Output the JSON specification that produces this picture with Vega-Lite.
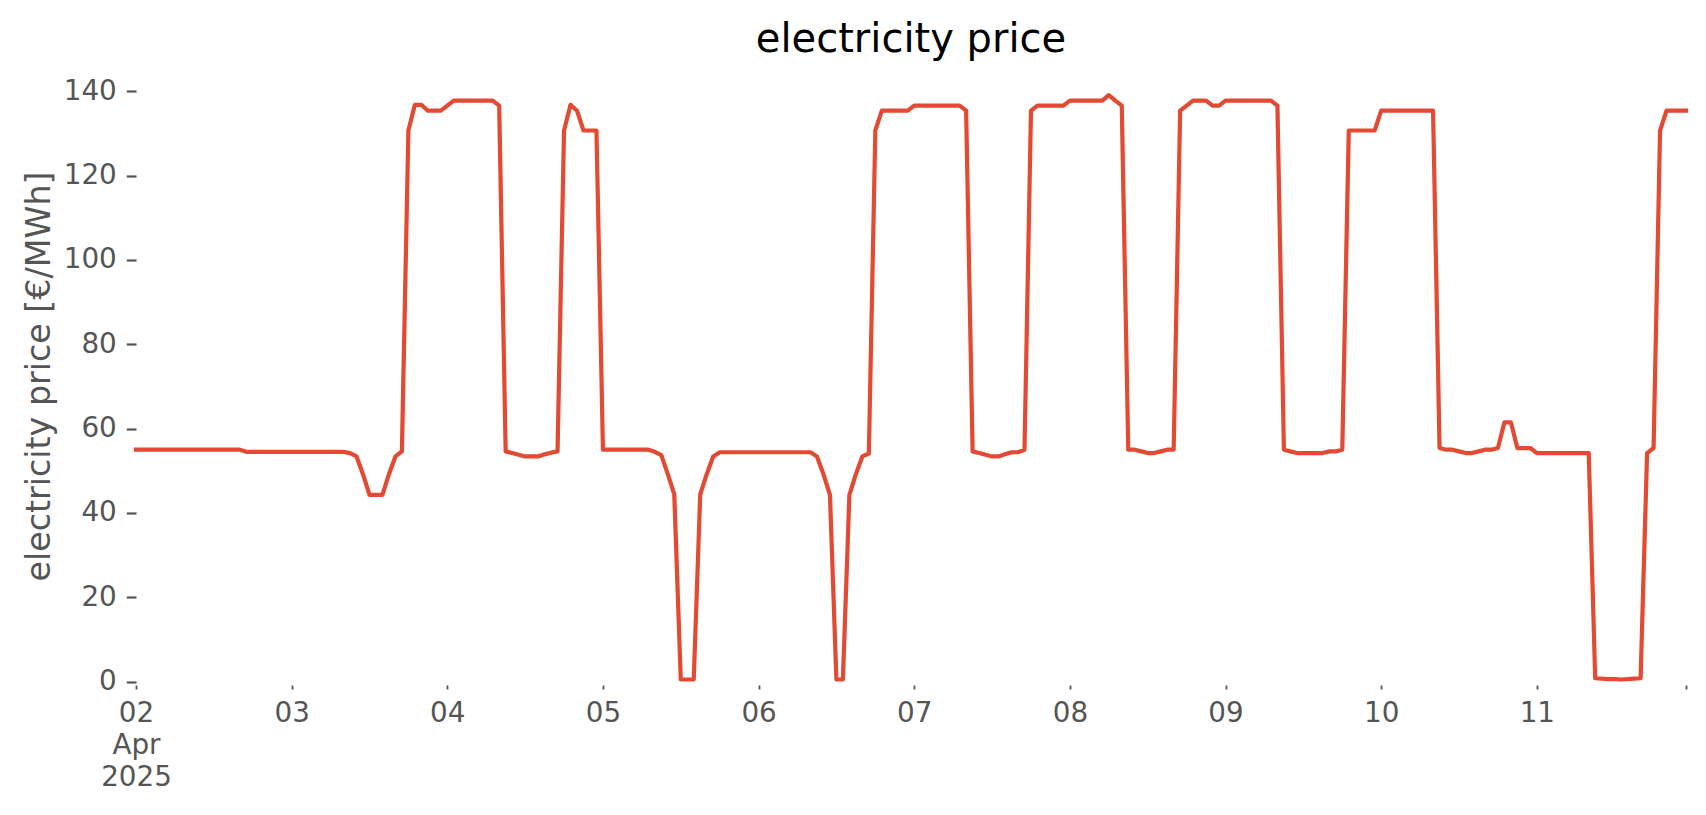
{
  "$schema": "https://vega.github.io/schema/vega-lite/v6.json",
  "width": 1550,
  "height": 619,
  "autosize": {"type": "none"},
  "padding": {"left": 136, "top": 66, "right": 20, "bottom": 130},
  "background": "white",
  "config": {"view": {"stroke": null}},
  "title": {"text": "electricity price", "font": "DejaVu Sans", "fontSize": 40, "fontWeight": "normal", "color": "#000000", "frame": "group", "anchor": "middle", "baseline": "alphabetic", "offset": 15.5, "dy": 41},
  "data": {"values": [
    {"t":"2025-04-02T00:00","p":55.0},{"t":"2025-04-02T01:00","p":55.0},{"t":"2025-04-02T02:00","p":55.0},{"t":"2025-04-02T03:00","p":55.0},{"t":"2025-04-02T04:00","p":55.0},{"t":"2025-04-02T05:00","p":55.0},{"t":"2025-04-02T06:00","p":55.0},{"t":"2025-04-02T07:00","p":55.0},{"t":"2025-04-02T08:00","p":55.0},{"t":"2025-04-02T09:00","p":55.0},{"t":"2025-04-02T10:00","p":55.0},{"t":"2025-04-02T11:00","p":55.0},{"t":"2025-04-02T12:00","p":55.0},{"t":"2025-04-02T13:00","p":55.0},{"t":"2025-04-02T14:00","p":55.0},{"t":"2025-04-02T15:00","p":55.0},{"t":"2025-04-02T16:00","p":55.0},{"t":"2025-04-02T17:00","p":54.5},{"t":"2025-04-02T18:00","p":54.5},{"t":"2025-04-02T19:00","p":54.5},{"t":"2025-04-02T20:00","p":54.5},{"t":"2025-04-02T21:00","p":54.5},{"t":"2025-04-02T22:00","p":54.5},{"t":"2025-04-02T23:00","p":54.5},
    {"t":"2025-04-03T00:00","p":54.5},{"t":"2025-04-03T01:00","p":54.5},{"t":"2025-04-03T02:00","p":54.5},{"t":"2025-04-03T03:00","p":54.5},{"t":"2025-04-03T04:00","p":54.5},{"t":"2025-04-03T05:00","p":54.5},{"t":"2025-04-03T06:00","p":54.5},{"t":"2025-04-03T07:00","p":54.5},{"t":"2025-04-03T08:00","p":54.5},{"t":"2025-04-03T09:00","p":54.2},{"t":"2025-04-03T10:00","p":53.4},{"t":"2025-04-03T11:00","p":49.2},{"t":"2025-04-03T12:00","p":44.3},{"t":"2025-04-03T13:00","p":44.3},{"t":"2025-04-03T14:00","p":44.3},{"t":"2025-04-03T15:00","p":49.2},{"t":"2025-04-03T16:00","p":53.4},{"t":"2025-04-03T17:00","p":54.6},{"t":"2025-04-03T18:00","p":130.7},{"t":"2025-04-03T19:00","p":136.8},{"t":"2025-04-03T20:00","p":136.8},{"t":"2025-04-03T21:00","p":135.4},{"t":"2025-04-03T22:00","p":135.4},{"t":"2025-04-03T23:00","p":135.4},
    {"t":"2025-04-04T00:00","p":136.6},{"t":"2025-04-04T01:00","p":137.8},{"t":"2025-04-04T02:00","p":137.8},{"t":"2025-04-04T03:00","p":137.8},{"t":"2025-04-04T04:00","p":137.8},{"t":"2025-04-04T05:00","p":137.8},{"t":"2025-04-04T06:00","p":137.8},{"t":"2025-04-04T07:00","p":137.8},{"t":"2025-04-04T08:00","p":136.6},{"t":"2025-04-04T09:00","p":54.6},{"t":"2025-04-04T10:00","p":54.2},{"t":"2025-04-04T11:00","p":53.8},{"t":"2025-04-04T12:00","p":53.4},{"t":"2025-04-04T13:00","p":53.4},{"t":"2025-04-04T14:00","p":53.4},{"t":"2025-04-04T15:00","p":53.9},{"t":"2025-04-04T16:00","p":54.3},{"t":"2025-04-04T17:00","p":54.6},{"t":"2025-04-04T18:00","p":130.7},{"t":"2025-04-04T19:00","p":136.8},{"t":"2025-04-04T20:00","p":135.4},{"t":"2025-04-04T21:00","p":130.7},{"t":"2025-04-04T22:00","p":130.7},{"t":"2025-04-04T23:00","p":130.7},
    {"t":"2025-04-05T00:00","p":55.0},{"t":"2025-04-05T01:00","p":55.0},{"t":"2025-04-05T02:00","p":55.0},{"t":"2025-04-05T03:00","p":55.0},{"t":"2025-04-05T04:00","p":55.0},{"t":"2025-04-05T05:00","p":55.0},{"t":"2025-04-05T06:00","p":55.0},{"t":"2025-04-05T07:00","p":55.0},{"t":"2025-04-05T08:00","p":54.5},{"t":"2025-04-05T09:00","p":53.7},{"t":"2025-04-05T10:00","p":49.2},{"t":"2025-04-05T11:00","p":44.4},{"t":"2025-04-05T12:00","p":0.5},{"t":"2025-04-05T13:00","p":0.5},{"t":"2025-04-05T14:00","p":0.5},{"t":"2025-04-05T15:00","p":44.4},{"t":"2025-04-05T16:00","p":49.2},{"t":"2025-04-05T17:00","p":53.4},{"t":"2025-04-05T18:00","p":54.4},{"t":"2025-04-05T19:00","p":54.4},{"t":"2025-04-05T20:00","p":54.4},{"t":"2025-04-05T21:00","p":54.4},{"t":"2025-04-05T22:00","p":54.4},{"t":"2025-04-05T23:00","p":54.4},
    {"t":"2025-04-06T00:00","p":54.4},{"t":"2025-04-06T01:00","p":54.4},{"t":"2025-04-06T02:00","p":54.4},{"t":"2025-04-06T03:00","p":54.4},{"t":"2025-04-06T04:00","p":54.4},{"t":"2025-04-06T05:00","p":54.4},{"t":"2025-04-06T06:00","p":54.4},{"t":"2025-04-06T07:00","p":54.4},{"t":"2025-04-06T08:00","p":54.4},{"t":"2025-04-06T09:00","p":53.4},{"t":"2025-04-06T10:00","p":49.2},{"t":"2025-04-06T11:00","p":44.3},{"t":"2025-04-06T12:00","p":0.5},{"t":"2025-04-06T13:00","p":0.5},{"t":"2025-04-06T14:00","p":44.3},{"t":"2025-04-06T15:00","p":49.2},{"t":"2025-04-06T16:00","p":53.4},{"t":"2025-04-06T17:00","p":54.1},{"t":"2025-04-06T18:00","p":130.7},{"t":"2025-04-06T19:00","p":135.4},{"t":"2025-04-06T20:00","p":135.4},{"t":"2025-04-06T21:00","p":135.4},{"t":"2025-04-06T22:00","p":135.4},{"t":"2025-04-06T23:00","p":135.4},
    {"t":"2025-04-07T00:00","p":136.6},{"t":"2025-04-07T01:00","p":136.6},{"t":"2025-04-07T02:00","p":136.6},{"t":"2025-04-07T03:00","p":136.6},{"t":"2025-04-07T04:00","p":136.6},{"t":"2025-04-07T05:00","p":136.6},{"t":"2025-04-07T06:00","p":136.6},{"t":"2025-04-07T07:00","p":136.6},{"t":"2025-04-07T08:00","p":135.4},{"t":"2025-04-07T09:00","p":54.6},{"t":"2025-04-07T10:00","p":54.2},{"t":"2025-04-07T11:00","p":53.8},{"t":"2025-04-07T12:00","p":53.4},{"t":"2025-04-07T13:00","p":53.4},{"t":"2025-04-07T14:00","p":53.9},{"t":"2025-04-07T15:00","p":54.4},{"t":"2025-04-07T16:00","p":54.4},{"t":"2025-04-07T17:00","p":55.0},{"t":"2025-04-07T18:00","p":135.4},{"t":"2025-04-07T19:00","p":136.6},{"t":"2025-04-07T20:00","p":136.6},{"t":"2025-04-07T21:00","p":136.6},{"t":"2025-04-07T22:00","p":136.6},{"t":"2025-04-07T23:00","p":136.6},
    {"t":"2025-04-08T00:00","p":137.8},{"t":"2025-04-08T01:00","p":137.8},{"t":"2025-04-08T02:00","p":137.8},{"t":"2025-04-08T03:00","p":137.8},{"t":"2025-04-08T04:00","p":137.8},{"t":"2025-04-08T05:00","p":137.8},{"t":"2025-04-08T06:00","p":139.1},{"t":"2025-04-08T07:00","p":137.8},{"t":"2025-04-08T08:00","p":136.6},{"t":"2025-04-08T09:00","p":55.0},{"t":"2025-04-08T10:00","p":55.0},{"t":"2025-04-08T11:00","p":54.6},{"t":"2025-04-08T12:00","p":54.2},{"t":"2025-04-08T13:00","p":54.2},{"t":"2025-04-08T14:00","p":54.6},{"t":"2025-04-08T15:00","p":55.0},{"t":"2025-04-08T16:00","p":55.0},{"t":"2025-04-08T17:00","p":135.4},{"t":"2025-04-08T18:00","p":136.6},{"t":"2025-04-08T19:00","p":137.8},{"t":"2025-04-08T20:00","p":137.8},{"t":"2025-04-08T21:00","p":137.8},{"t":"2025-04-08T22:00","p":136.6},{"t":"2025-04-08T23:00","p":136.6},
    {"t":"2025-04-09T00:00","p":137.8},{"t":"2025-04-09T01:00","p":137.8},{"t":"2025-04-09T02:00","p":137.8},{"t":"2025-04-09T03:00","p":137.8},{"t":"2025-04-09T04:00","p":137.8},{"t":"2025-04-09T05:00","p":137.8},{"t":"2025-04-09T06:00","p":137.8},{"t":"2025-04-09T07:00","p":137.8},{"t":"2025-04-09T08:00","p":136.6},{"t":"2025-04-09T09:00","p":55.0},{"t":"2025-04-09T10:00","p":54.6},{"t":"2025-04-09T11:00","p":54.2},{"t":"2025-04-09T12:00","p":54.2},{"t":"2025-04-09T13:00","p":54.2},{"t":"2025-04-09T14:00","p":54.2},{"t":"2025-04-09T15:00","p":54.2},{"t":"2025-04-09T16:00","p":54.6},{"t":"2025-04-09T17:00","p":54.6},{"t":"2025-04-09T18:00","p":55.0},{"t":"2025-04-09T19:00","p":130.7},{"t":"2025-04-09T20:00","p":130.7},{"t":"2025-04-09T21:00","p":130.7},{"t":"2025-04-09T22:00","p":130.7},{"t":"2025-04-09T23:00","p":130.7},
    {"t":"2025-04-10T00:00","p":135.4},{"t":"2025-04-10T01:00","p":135.4},{"t":"2025-04-10T02:00","p":135.4},{"t":"2025-04-10T03:00","p":135.4},{"t":"2025-04-10T04:00","p":135.4},{"t":"2025-04-10T05:00","p":135.4},{"t":"2025-04-10T06:00","p":135.4},{"t":"2025-04-10T07:00","p":135.4},{"t":"2025-04-10T08:00","p":135.4},{"t":"2025-04-10T09:00","p":55.4},{"t":"2025-04-10T10:00","p":55.0},{"t":"2025-04-10T11:00","p":55.0},{"t":"2025-04-10T12:00","p":54.6},{"t":"2025-04-10T13:00","p":54.2},{"t":"2025-04-10T14:00","p":54.2},{"t":"2025-04-10T15:00","p":54.6},{"t":"2025-04-10T16:00","p":55.0},{"t":"2025-04-10T17:00","p":55.0},{"t":"2025-04-10T18:00","p":55.4},{"t":"2025-04-10T19:00","p":61.5},{"t":"2025-04-10T20:00","p":61.5},{"t":"2025-04-10T21:00","p":55.4},{"t":"2025-04-10T22:00","p":55.4},{"t":"2025-04-10T23:00","p":55.4},
    {"t":"2025-04-11T00:00","p":54.2},{"t":"2025-04-11T01:00","p":54.2},{"t":"2025-04-11T02:00","p":54.2},{"t":"2025-04-11T03:00","p":54.2},{"t":"2025-04-11T04:00","p":54.2},{"t":"2025-04-11T05:00","p":54.2},{"t":"2025-04-11T06:00","p":54.2},{"t":"2025-04-11T07:00","p":54.2},{"t":"2025-04-11T08:00","p":54.2},{"t":"2025-04-11T09:00","p":0.8},{"t":"2025-04-11T10:00","p":0.7},{"t":"2025-04-11T11:00","p":0.6},{"t":"2025-04-11T12:00","p":0.6},{"t":"2025-04-11T13:00","p":0.5},{"t":"2025-04-11T14:00","p":0.6},{"t":"2025-04-11T15:00","p":0.7},{"t":"2025-04-11T16:00","p":0.8},{"t":"2025-04-11T17:00","p":54.2},{"t":"2025-04-11T18:00","p":55.4},{"t":"2025-04-11T19:00","p":130.7},{"t":"2025-04-11T20:00","p":135.4},{"t":"2025-04-11T21:00","p":135.4},{"t":"2025-04-11T22:00","p":135.4},{"t":"2025-04-11T23:00","p":135.4}
  ]},
  "mark": {"type": "line", "color": "#E24A33", "strokeWidth": 4.2, "strokeJoin": "round", "strokeCap": "square", "clip": false},
  "encoding": {
    "x": {
      "field": "t", "type": "temporal",
      "scale": {"domain": [{"year": 2025, "month": 4, "date": 2, "hours": 0}, {"year": 2025, "month": 4, "date": 11, "hours": 23}], "nice": false},
      "axis": {
        "title": null,
        "values": [
          {"year": 2025, "month": 4, "date": 2}, {"year": 2025, "month": 4, "date": 3}, {"year": 2025, "month": 4, "date": 4},
          {"year": 2025, "month": 4, "date": 5}, {"year": 2025, "month": 4, "date": 6}, {"year": 2025, "month": 4, "date": 7},
          {"year": 2025, "month": 4, "date": 8}, {"year": 2025, "month": 4, "date": 9}, {"year": 2025, "month": 4, "date": 10},
          {"year": 2025, "month": 4, "date": 11}, {"year": 2025, "month": 4, "date": 11, "hours": 23}
        ],
        "labelExpr": "hours(datum.value) == 23 ? '' : (date(datum.value) == 2 ? ['02', 'Apr', '2025'] : timeFormat(datum.value, '%d'))",
        "labelFont": "DejaVu Sans", "labelFontSize": 27.8, "labelColor": "#555555",
        "labelBaseline": "top", "labelAlign": "center", "labelLineHeight": 32.2,
        "labelPadding": 10, "labelFlush": false, "labelOverlap": false,
        "tickColor": "#555555", "tickSize": 4, "tickWidth": 1.8,
        "domain": false, "grid": false,
        "encode": {
          "ticks": {"update": {"y2": {"signal": "(hours(datum.value) == 23 || date(datum.value) == 2) ? 8 : 4"}}},
          "labels": {"update": {"dy": {"signal": "date(datum.value) == 2 ? 4.3 : 0"}}}
        }
      }
    },
    "y": {
      "field": "p", "type": "quantitative",
      "scale": {"domain": [-0.8, 146], "nice": false, "zero": false},
      "axis": {
        "title": "electricity price [€/MWh]",
        "values": [0, 20, 40, 60, 80, 100, 120, 140],
        "labelFont": "DejaVu Sans", "labelFontSize": 27.8, "labelColor": "#555555", "labelPadding": 10,
        "tickColor": "#555555", "tickSize": 9.7, "tickWidth": 2.2,
        "domain": false, "grid": false,
        "titleFont": "DejaVu Sans", "titleFontSize": 33.3, "titleFontWeight": "normal", "titleColor": "#555555",
        "titleAngle": 270, "titleAlign": "center", "titleBaseline": "alphabetic", "titleX": -87, "titleY": 310
      }
    }
  }
}
